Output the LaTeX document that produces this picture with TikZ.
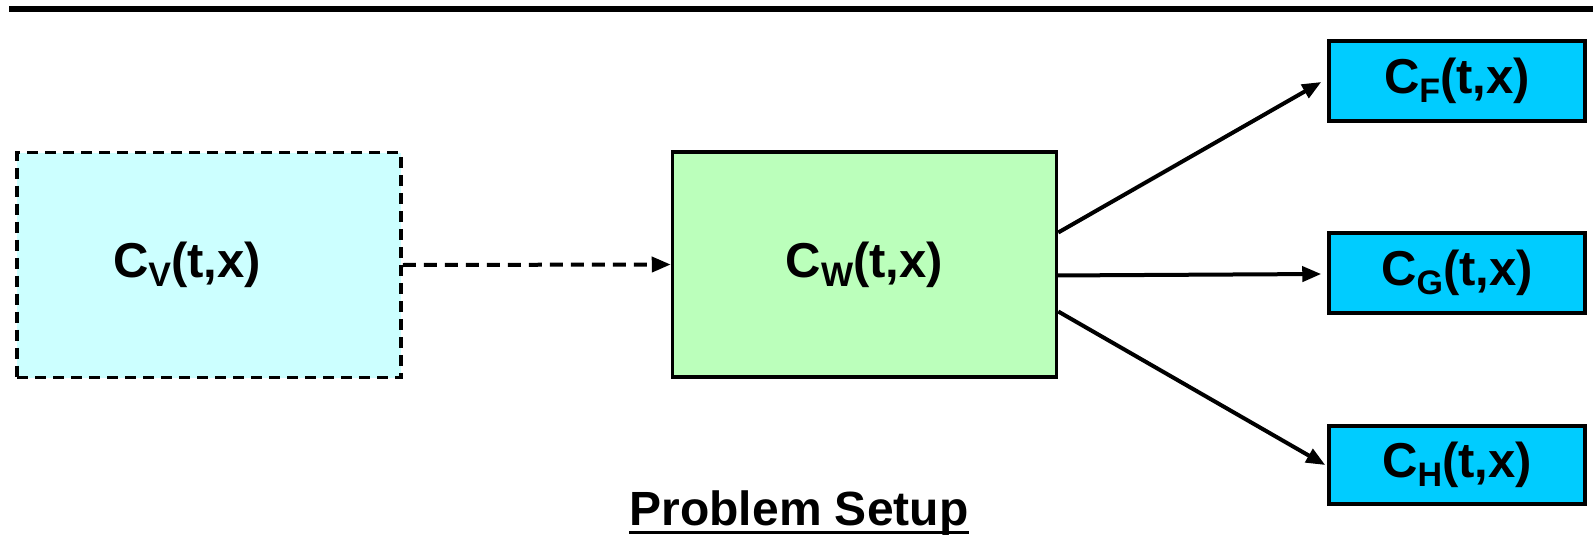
\documentclass[tikz,border=0pt]{standalone}
\usepackage{fontspec}
\setmainfont{Liberation Sans}
\usetikzlibrary{arrows.meta,calc}
\definecolor{vcol}{HTML}{CCFFFF}
\definecolor{wcol}{HTML}{BBFFBB}
\definecolor{outc}{HTML}{00CCFF}
\newcommand\clab[1]{C\raisebox{-9pt}{\fontsize{34}{34}\selectfont #1}(t,x)}
\begin{document}
\begin{tikzpicture}[x=1pt,y=-1pt,
 box/.style={draw=black,line width=3.5pt,inner sep=0pt,font=\fontsize{49}{49}\selectfont\bfseries},
 big/.style={box,minimum width=384pt,minimum height=225pt},
 small/.style={box,fill=outc,minimum width=256pt,minimum height=80pt},
 conn/.style={line width=4pt,-{Triangle[length=19pt,width=15pt]}}]
\useasboundingbox (0,0) rectangle (1593,535);
\draw[line width=6pt] (9,9) -- (1593,9);
\node[big,fill=vcol,dash pattern=on 11pt off 7pt] (V) at (209,265) {\clab{V}\kern44pt};
\node[big,fill=wcol] (W) at (864.5,264.5) {\clab{W}};
\node[small] (F) at (1457,81) {\clab{F}};
\node[small] (G) at (1457,273) {\clab{G}};
\node[small,minimum height=78pt] (H) at (1457,465) {\clab{H}};
\draw[conn,dash pattern=on 13pt off 8pt] (V.east) -- (W.west);
\draw[conn] ($(W.east)+(0,-32)$) -- ($(F.west)+(-6,1)$);
\draw[conn] ($(W.east)+(-3,11)$) -- ($(G.west)+(-6,1)$);
\draw[conn] ($(W.east)+(0,47)$) -- ($(H.west)+(-2,0)$);
\node[inner sep=0pt,anchor=base,font=\fontsize{48}{48}\selectfont\bfseries] (T) at (799,525) {Problem Setup};
\draw[line width=3pt] ($(T.base west)+(0,7)$) -- ($(T.base east)+(0,7)$);
\end{tikzpicture}
\end{document}
